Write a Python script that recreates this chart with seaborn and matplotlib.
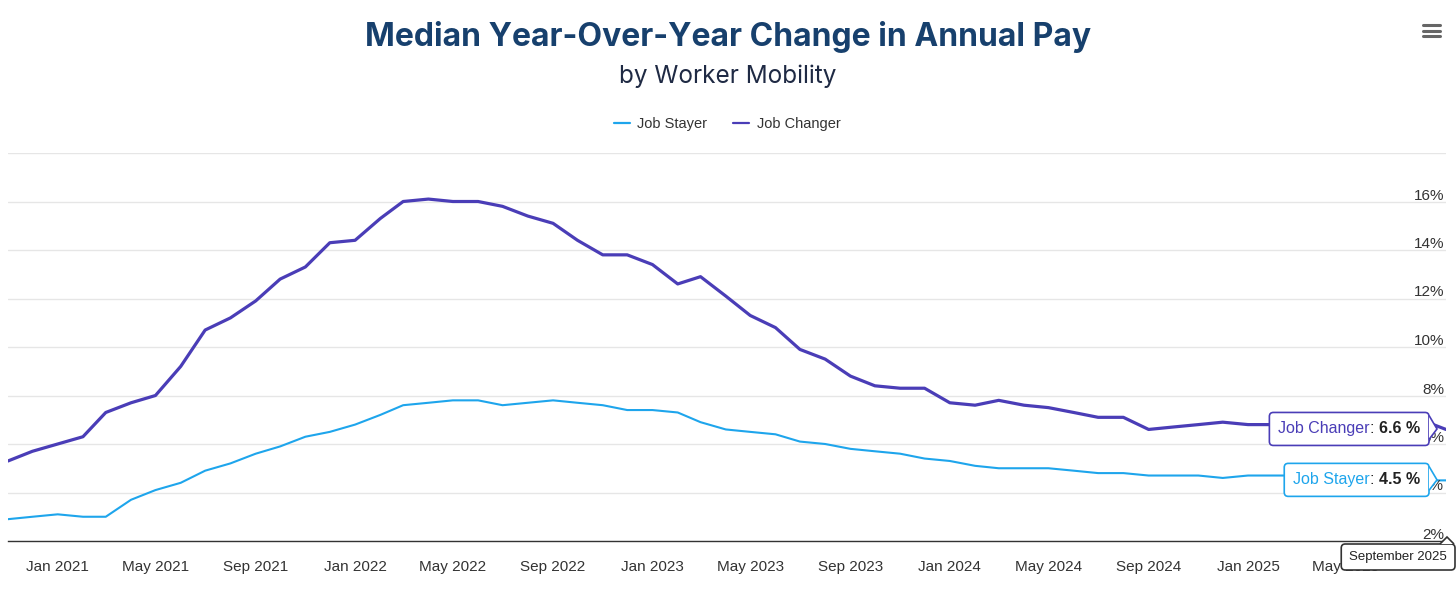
import matplotlib
matplotlib.use('Agg')
import matplotlib.pyplot as plt
from matplotlib.lines import Line2D
from matplotlib.patches import FancyBboxPatch, Polygon
from matplotlib.transforms import IdentityTransform, Bbox, blended_transform_factory
import pandas as pd
import seaborn as sns

# monthly data, Nov 2020 - Sep 2025
months = pd.date_range('2020-11-01', '2025-09-01', freq='MS')
job_stayer = [2.9, 3.0,
              3.1, 3.0, 3.0, 3.7, 4.1, 4.4, 4.9, 5.2, 5.6, 5.9, 6.3, 6.5,
              6.8, 7.2, 7.6, 7.7, 7.8, 7.8, 7.6, 7.7, 7.8, 7.7, 7.6, 7.4,
              7.4, 7.3, 6.9, 6.6, 6.5, 6.4, 6.1, 6.0, 5.8, 5.7, 5.6, 5.4,
              5.3, 5.1, 5.0, 5.0, 5.0, 4.9, 4.8, 4.8, 4.7, 4.7, 4.7, 4.6,
              4.7, 4.7, 4.7, 4.6, 4.6, 4.6, 4.5, 4.5, 4.5]
job_changer = [5.3, 5.7,
               6.0, 6.3, 7.3, 7.7, 8.0, 9.2, 10.7, 11.2, 11.9, 12.8, 13.3, 14.3,
               14.4, 15.3, 16.0, 16.1, 16.0, 16.0, 15.8, 15.4, 15.1, 14.4, 13.8, 13.8,
               13.4, 12.6, 12.9, 12.1, 11.3, 10.8, 9.9, 9.5, 8.8, 8.4, 8.3, 8.3,
               7.7, 7.6, 7.8, 7.6, 7.5, 7.3, 7.1, 7.1, 6.6, 6.7, 6.8, 6.9,
               6.8, 6.8, 6.8, 6.9, 6.9, 6.9, 7.0, 7.0, 6.6]
series = ['Job Stayer', 'Job Changer']
palette = {'Job Stayer': '#1ea5ec', 'Job Changer': '#4a3db7'}
widths = {'Job Stayer': 1.5, 'Job Changer': 2.3}
y_grid = [2, 4, 6, 8, 10, 12, 14, 16, 18]
y_labels = [2, 4, 6, 8, 10, 12, 14, 16]
x_ticks = pd.date_range('2021-01-01', '2025-09-01', freq='4MS')
# last label (Sep 2025) is hidden under the tooltip / runs off the edge
x_labels = [d.strftime('%b %Y') for d in x_ticks[:-1]] + ['']

df = pd.DataFrame({'month': months, 'Job Stayer': job_stayer, 'Job Changer': job_changer})
df = df.melt('month', var_name='series', value_name='pct')

sns.set_style('white')
plt.rcParams['font.family'] = ['Liberation Sans', 'DejaVu Sans']

W, H = 1456, 595
fig = plt.figure(figsize=(W / 100, H / 100), dpi=100)
ax = fig.add_axes([8 / W, 54 / H, 1438 / W, 388 / H])

sns.lineplot(data=df, x='month', y='pct', hue='series', size='series',
             palette=palette, sizes=widths, hue_order=series, legend=False, ax=ax)

ax.set_xlim(months[0], months[-1])
ax.set_ylim(2, 18)
ax.set_xlabel('')
ax.set_ylabel('')
ax.set_yticks(y_grid)
ax.yaxis.grid(True, color='#e6e6e6', lw=1)
ax.xaxis.grid(False)
ax.tick_params(axis='y', length=0, labelleft=False)
ax.set_xticks(x_ticks)
ax.set_xticklabels(x_labels)
ax.tick_params(axis='x', length=7, width=1, color='#333333', labelsize=11,
               labelcolor='#333333', pad=7)
for s in ['top', 'left', 'right']:
    ax.spines[s].set_visible(False)
ax.spines['bottom'].set_color('#333333')
ax.spines['bottom'].set_linewidth(1)

trans = blended_transform_factory(ax.transAxes, ax.transData)
for v in y_labels:
    ax.annotate(f'{v}%', (1, v), xycoords=trans, xytext=(-2, 6), textcoords='offset pixels',
                ha='right', va='center', fontsize=11, color='#333333', zorder=3)

# titles and legend
fig.text(0.5, 1 - 37 / H, 'Median Year-Over-Year Change in Annual Pay', ha='center', va='center',
         fontsize=23, fontweight='bold', family='Inter', color='#17406d')
fig.text(0.5, 1 - 76 / H, 'by Worker Mobility', ha='center', va='center',
         fontsize=17.5, family='Inter', color='#1f2a44')
handles = [Line2D([], [], color=palette[s], lw=1.6) for s in series]
fig.legend(handles, series, loc='center', bbox_to_anchor=(727 / W, 1 - 124 / H), ncol=2,
           frameon=False, fontsize=10.5, handlelength=1.1, handletextpad=0.5,
           columnspacing=1.8, labelcolor='#333333')

# menu icon
for yy in [25, 30.5, 36]:
    fig.add_artist(Line2D([1423 / W, 1440 / W], [1 - yy / H, 1 - yy / H], color='#666666',
                          lw=2.2, transform=fig.transFigure))


# tooltips
def tooltip(parts, x, y, dx, dy, edge, size, padx, pady, notch):
    texts = []
    prev = None
    for s, c, w in reversed(parts):
        if prev is None:
            t = ax.annotate(s, (x, y), xytext=(dx, dy), textcoords='offset pixels',
                            ha='right', va='baseline', color=c, fontweight=w, fontsize=size,
                            zorder=8, annotation_clip=False)
        else:
            t = ax.annotate(s, (0, y), xycoords=(prev, 'data'), xytext=(0, dy),
                            textcoords='offset pixels', ha='right', va='baseline', color=c,
                            fontweight=w, fontsize=size, zorder=8, annotation_clip=False)
        texts.append(t)
        prev = t
    return dict(texts=texts, edge=edge, padx=padx, pady=pady, notch=notch)


last = months[-1]
tips = [
    tooltip([('Job Changer', palette['Job Changer'], 'normal'), (': ', '#222222', 'normal'),
             ('6.6 %', '#222222', 'bold')], last, job_changer[-1], -26, -4,
            palette['Job Changer'], 11.5, 9, 9, 'right'),
    tooltip([('Job Stayer', palette['Job Stayer'], 'normal'), (': ', '#222222', 'normal'),
             ('4.5 %', '#222222', 'bold')], last, job_stayer[-1], -26, -4,
            palette['Job Stayer'], 11.5, 9, 9, 'right'),
    tooltip([('September 2025', '#222222', 'normal')], last, 2, 1, -19,
            '#333333', 9.5, 8, 7, 'top'),
]

fig.canvas.draw()
for tp in tips:
    bb = Bbox.union([t.get_window_extent() for t in tp['texts']])
    x0, y0 = bb.x0 - tp['padx'], bb.y0 - tp['pady']
    x1, y1 = bb.x1 + tp['padx'], bb.y1 + tp['pady']
    box = FancyBboxPatch((x0, y0), x1 - x0, y1 - y0, boxstyle='round,pad=0,rounding_size=4',
                         transform=IdentityTransform(), facecolor='white', edgecolor=tp['edge'],
                         lw=1.2, zorder=6, clip_on=False)
    ax.add_artist(box)
    cy = (y0 + y1) / 2
    if tp['notch'] == 'right':
        verts = [(x1, y1 - 3), (x1 + 8, cy), (x1, y0 + 6)]
    else:
        verts = [(x1 - 15, y1), (x1 - 8, y1 + 7), (x1 - 1, y1)]
    ax.add_artist(Polygon(verts, closed=False, transform=IdentityTransform(), facecolor='white',
                          edgecolor=tp['edge'], lw=1.2, zorder=6.5, clip_on=False))

fig.savefig('out.png', dpi=100)
